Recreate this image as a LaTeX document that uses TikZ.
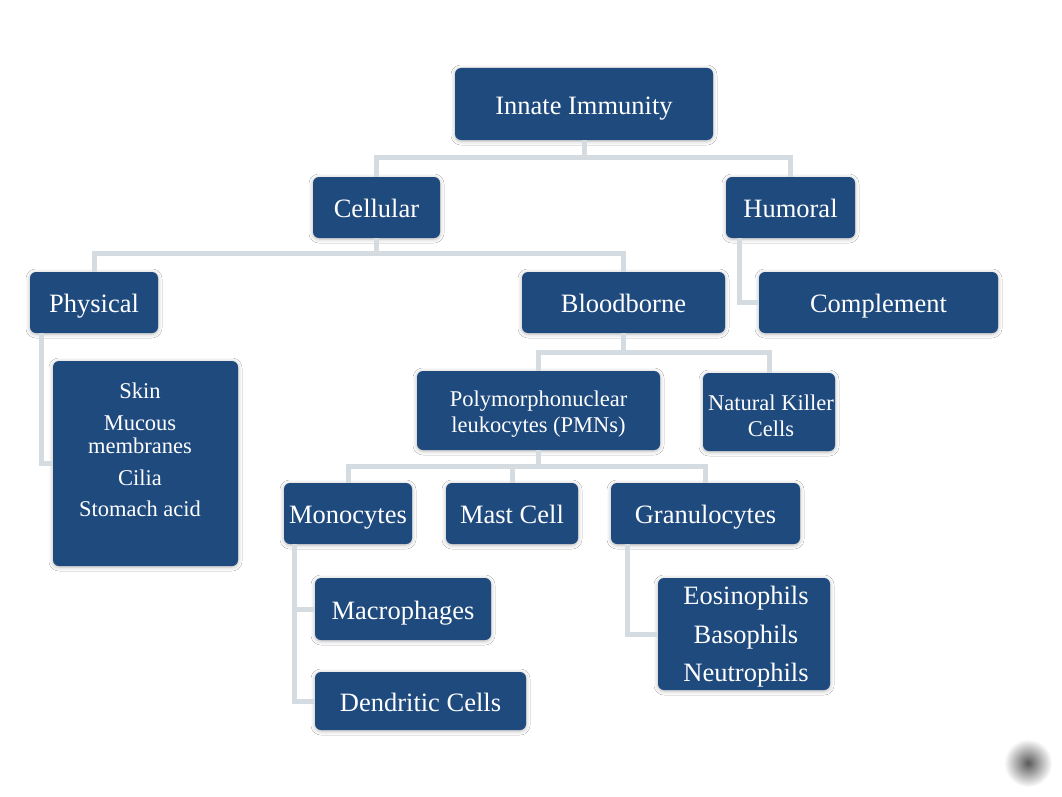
\documentclass[tikz,border=0pt]{standalone}
\usepackage{fontspec}
\setmainfont{Liberation Serif}
\usetikzlibrary{shadows.blur}
\definecolor{boxblue}{RGB}{31,74,126}
\definecolor{linkgray}{RGB}{212,219,225}
\begin{document}
\begin{tikzpicture}[x=1pt,y=-1pt,
    panel/.style={fill=boxblue, rounded corners=6pt, inner sep=0pt, text=white,
        blur shadow={shadow xshift=0pt, shadow yshift=-1pt, shadow blur radius=4pt, shadow opacity=30}},
    box/.style={panel, text height=22pt, text depth=2pt, font=\fontsize{26.5}{32}\selectfont},
    listtext/.style={text=white, align=center, inner sep=0pt, font=\fontsize{22.5}{26}\selectfont},
    biglist/.style={listtext, font=\fontsize{26.5}{38.5}\selectfont},
    link/.style={draw=linkgray, line width=5pt}]
        \fill[white] (0,0) rectangle (1062,797);
        \useasboundingbox (0,0) rectangle (1062,797);

        \node[box, minimum width=258, minimum height=72] (innate) at (584,104) {Innate Immunity};

        \node[box, minimum width=127, minimum height=61] (cellular) at (376.5,207.5) {Cellular};
        \node[box, minimum width=129, minimum height=61] (humoral) at (790.5,207.5) {Humoral};

        \node[box, minimum width=128, minimum height=61] (physical) at (94,302.5) {Physical};
        \node[box, minimum width=203, minimum height=61] (bloodborne) at (623.5,302.5) {Bloodborne};
        \node[box, minimum width=239, minimum height=61] (complement) at (878.5,302.5) {Complement};

        \node[panel, minimum width=185, minimum height=205] (barriers) at (145.5,463.5) {};
        \node[listtext, font=\fontsize{22.5}{23}\selectfont] (barrierlist) at (140,450)
            {Skin\\[9pt] Mucous\\ membranes\\[9pt] Cilia\\[8pt] Stomach acid};

        \node[panel, minimum width=243, minimum height=79] (pmn) at (538.5,410.5) {};
        \node[listtext] (pmntext) at (538.5,414) {Polymorphonuclear\\ leukocytes (PMNs)};
        \node[panel, minimum width=132, minimum height=78] (nkcells) at (769,412) {};
        \node[listtext] (nktext) at (771,416) {Natural Killer\\ Cells};

        \node[box, minimum width=128, minimum height=61] (monocytes) at (348,513.5) {Monocytes};
        \node[box, minimum width=132, minimum height=61] (mastcell) at (512,513.5) {Mast Cell};
        \node[box, minimum width=189, minimum height=61] (granulocytes) at (705.5,513.5) {Granulocytes};

        \node[box, minimum width=176, minimum height=62] (macrophages) at (403,609) {Macrophages};
        \node[box, minimum width=211, minimum height=58] (dendritic) at (420.5,701) {Dendritic Cells};
        \node[panel, minimum width=172, minimum height=112] (granlist) at (744,634) {};
        \node[biglist] (grantext) at (746,637) {Eosinophils\\ Basophils\\ Neutrophils};

        \draw[link] (innate.south) -- ++(0,17) -| (cellular.north);
        \draw[link] (innate.south) -- ++(0,17) -| (humoral.north);
        \draw[link] (cellular.south) -- ++(0,15) -| (physical.north);
        \draw[link] (cellular.south) -- ++(0,15) -| (bloodborne.north);
        \draw[link] ([xshift=14pt]humoral.south west) |- (complement.west);
        \draw[link] ([xshift=12pt]physical.south west) |- (barriers.west);
        \draw[link] (bloodborne.south) -- ++(0,19) -| (pmn.north);
        \draw[link] (bloodborne.south) -- ++(0,19) -| (nkcells.north);
        \draw[link] (pmn.south) -- ++(0,16) -| (monocytes.north);
        \draw[link] (pmn.south) -- ++(0,16) -| (mastcell.north);
        \draw[link] (pmn.south) -- ++(0,16) -| (granulocytes.north);
        \draw[link] ([xshift=11pt]monocytes.south west) |- (macrophages.west);
        \draw[link] ([xshift=11pt]monocytes.south west) |- (dendritic.west);
        \draw[link] ([xshift=17pt]granulocytes.south west) |- (granlist.west);

        \shade[inner color=black!65, outer color=white] (1028,763) circle (24);
    \end{tikzpicture}
\end{document}
